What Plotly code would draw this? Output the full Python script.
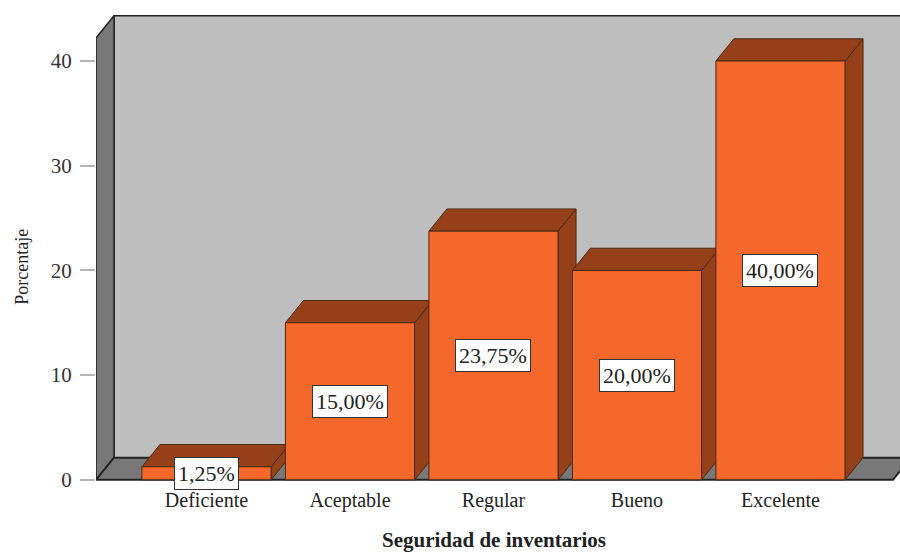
import plotly.graph_objects as go

# Datos del grafico
categorias = ["Deficiente", "Aceptable", "Regular", "Bueno", "Excelente"]
porcentajes = [1.25, 15.00, 23.75, 20.00, 40.00]
etiquetas = ["1,25%", "15,00%", "23,75%", "20,00%", "40,00%"]
ticks_y = [0, 10, 20, 30, 40]

NARANJA = "#F5682B"
MARRON = "#96401A"
BORDE_BARRA = "#4A2A12"
BORDE_CAJA = "#222222"
GRIS_FONDO = "#BEBEBE"
GRIS_PISO = "#787878"
FUENTE = "Liberation Serif"

# Efecto 3D: profundidad en unidades de los ejes
ANCHO = 0.9
PROF_X = 0.1254
PROF_Y = 2.12
X_IZQ = -0.77
X_DER = 4.784
Y_TECHO = 42.2


def cara(xs, ys, relleno, borde, grosor=1):
    return go.Scatter(
        x=xs + xs[:1], y=ys + ys[:1], mode="lines", fill="toself",
        fillcolor=relleno, line=dict(color=borde, width=grosor),
        hoverinfo="skip", showlegend=False,
    )


fig = go.Figure()

# Paredes y piso
fig.add_trace(cara(
    [X_IZQ + PROF_X, X_DER + PROF_X, X_DER + PROF_X, X_IZQ + PROF_X],
    [PROF_Y, PROF_Y, Y_TECHO + PROF_Y, Y_TECHO + PROF_Y],
    GRIS_FONDO, BORDE_CAJA, 1.5))
fig.add_trace(cara(
    [X_IZQ, X_IZQ + PROF_X, X_IZQ + PROF_X, X_IZQ],
    [0, PROF_Y, Y_TECHO + PROF_Y, Y_TECHO],
    GRIS_PISO, BORDE_CAJA, 1.5))
fig.add_trace(cara(
    [X_IZQ, X_DER, X_DER + PROF_X, X_IZQ + PROF_X],
    [0, 0, PROF_Y, PROF_Y],
    GRIS_PISO, BORDE_CAJA, 2))

# Barras
for i, valor in enumerate(porcentajes):
    a = i - ANCHO / 2
    b = i + ANCHO / 2
    fig.add_trace(cara(
        [b, b + PROF_X, b + PROF_X, b],
        [0, PROF_Y, valor + PROF_Y, valor],
        MARRON, BORDE_BARRA))
    fig.add_trace(cara(
        [a, b, b + PROF_X, a + PROF_X],
        [valor, valor, valor + PROF_Y, valor + PROF_Y],
        MARRON, BORDE_BARRA))
    fig.add_trace(cara(
        [a, b, b, a],
        [0, 0, valor, valor],
        NARANJA, BORDE_BARRA))
    fig.add_annotation(
        x=i, y=valor / 2, text=etiquetas[i], showarrow=False,
        font=dict(family=FUENTE, size=22, color="#222222"),
        bgcolor="white", bordercolor="#333333", borderwidth=1, borderpad=3,
    )

# Titulos de los ejes
fig.add_annotation(
    xref="paper", yref="paper", x=0.4949, y=-0.1205, showarrow=False,
    xanchor="center", yanchor="middle",
    text="<b>Seguridad de inventarios</b>", font=dict(size=21),
)
fig.add_annotation(
    xref="paper", yref="paper", x=-0.0921, y=0.457, showarrow=False,
    xanchor="center", yanchor="middle",
    text="Porcentaje", textangle=-90, font=dict(size=18),
)

fig.update_layout(
    width=900, height=552,
    margin=dict(l=96, r=0, t=10, b=69),
    paper_bgcolor="white", plot_bgcolor="white",
    showlegend=False,
    font=dict(family=FUENTE, color="#222222"),
    xaxis=dict(
        range=[X_IZQ, 4.833], tickvals=list(range(len(categorias))),
        ticktext=categorias, ticks="", showgrid=False, zeroline=False,
        showline=False, tickfont=dict(size=20), ticklabelstandoff=3,
    ),
    yaxis=dict(
        range=[-0.3, 44.87], tickvals=ticks_y, ticks="outside", ticklen=15,
        tickcolor="#B5B5B5", tickwidth=2, showgrid=False, zeroline=False,
        showline=False, tickfont=dict(size=21, color="#333333"), ticklabelstandoff=4,
    ),
)

# Sin el margen por defecto de la pagina
fig.write_html(
    "out.html",
    config={"displayModeBar": False},
    post_script="document.body.style.margin = '0';",
)
